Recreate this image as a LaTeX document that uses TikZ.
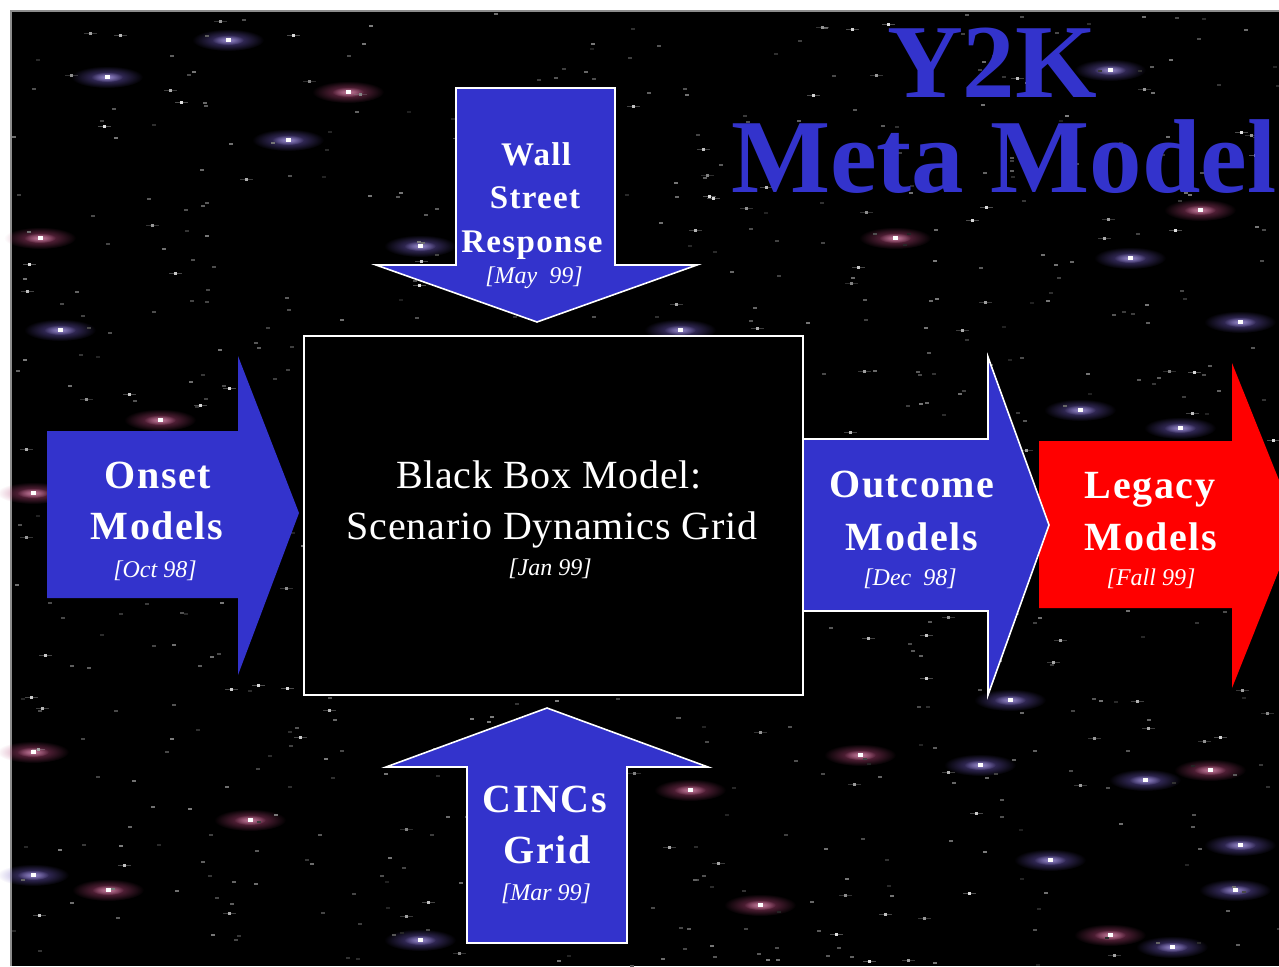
\documentclass[tikz,border=0pt]{standalone}
\usepackage{fontspec}
\setmainfont{Liberation Serif}
\newfontfamily\spacedbold[LetterSpace=4]{Liberation Serif}
\newfontfamily\spacedwide[LetterSpace=2]{Liberation Serif}
\usetikzlibrary{fadings}
\definecolor{slideblue}{RGB}{51,51,204}
\definecolor{slidered}{RGB}{255,0,0}
\definecolor{glowpurple}{RGB}{110,90,190}
\definecolor{glowpink}{RGB}{180,70,120}
\definecolor{framegray}{RGB}{140,140,140}

\tikzfading[name=softglow, inner color=transparent!0, outer color=transparent!100]

\tikzset{
  blockarrow/.style={fill=slideblue, draw=white, line width=1.6pt, line join=miter},
  plainarrow/.style={fill=slideblue, draw=none},
  redarrow/.style={fill=slidered, draw=none},
  blackbox/.style={fill=black, draw=white, line width=2pt},
  biglabel/.style={text=white, inner sep=0pt, anchor=base,
    font=\spacedbold\bfseries\fontsize{40}{40}\selectfont},
  midlabel/.style={text=white, inner sep=0pt, anchor=base,
    font=\spacedbold\bfseries\fontsize{33}{33}\selectfont},
  boxlabel/.style={text=white, inner sep=0pt, anchor=base,
    font=\spacedwide\fontsize{40}{40}\selectfont},
  datelabel/.style={text=white, inner sep=0pt, anchor=base,
    font=\itshape\fontsize{24}{24}\selectfont},
  titlelabel/.style={text=slideblue, inner sep=0pt,
    font=\bfseries\fontsize{105}{105}\selectfont},
}

\begin{document}
\begin{tikzpicture}[x=1pt, y=-1pt]
  \useasboundingbox (0,0) rectangle (1279,966);
  \clip (0,0) rectangle (1279,966);

  % page and starfield
  \fill[white] (0,0) rectangle (1279,966);
  \fill[black] (11,11) rectangle (1279,966);
  \draw[framegray, line width=1.2pt] (11,966) -- (11,11) -- (1279,11);

  % soft glowing stars
  \foreach \gx/\gy/\gc in {
      107/77/glowpurple, 348/92/glowpink, 288/140/glowpurple, 228/40/glowpurple,
      40/238/glowpink, 420/246/glowpurple, 895/238/glowpink, 1130/258/glowpurple,
      1240/322/glowpurple, 1180/428/glowpurple, 1080/410/glowpurple, 1110/70/glowpurple,
      33/493/glowpink, 33/752/glowpink, 108/890/glowpink, 33/875/glowpurple,
      1145/780/glowpurple, 1210/770/glowpink, 860/755/glowpink, 1172/947/glowpurple,
      1110/935/glowpink, 1240/845/glowpurple, 760/905/glowpink, 60/330/glowpurple,
      1010/700/glowpurple, 1235/890/glowpurple, 680/330/glowpurple, 160/420/glowpink,
      980/765/glowpurple, 250/820/glowpink, 420/940/glowpurple, 690/790/glowpink,
      1200/210/glowpink, 1050/860/glowpurple} {
    \fill[\gc, path fading=softglow, opacity=0.75] (\gx,\gy) ellipse (36 and 11);
    \fill[\gc!60!white, path fading=softglow, opacity=0.8] (\gx,\gy) ellipse (16 and 5);
    \fill[white] (\gx-2.5,\gy-2) rectangle (\gx+2.5,\gy+2);
  }

  % faint dust
  \pgfmathsetseed{7}
  \foreach \i in {1,...,650} {
    \pgfmathsetmacro\sx{12+1267*rnd}
    \pgfmathsetmacro\sy{12+954*rnd}
    \pgfmathsetmacro\sg{12+38*rnd}
    \fill[white!\sg!black] (\sx,\sy) rectangle ++(4,2);
  }
  % brighter points
  \foreach \i in {1,...,150} {
    \pgfmathsetmacro\sx{12+1267*rnd}
    \pgfmathsetmacro\sy{12+954*rnd}
    \pgfmathsetmacro\sg{50+40*rnd}
    \fill[white!\sg!black] (\sx,\sy) rectangle ++(3,3);
    \fill[white!\sg!black, opacity=0.35] (\sx-5,\sy+1) rectangle ++(13,1);
  }

  % title
  \node[titlelabel, anchor=base] (tY) at (992,97) {Y2K};
  \node[titlelabel, anchor=base west] (tMeta) at (731,192) {Meta Model};

  % arrow from the top
  \path[blockarrow] (456,88) -- (615,88) -- (615,265) -- (697,265) -- (537,322)
    -- (376,265) -- (456,265) -- cycle;
  \node[midlabel] (wsA) at (536,165) {Wall};
  \node[midlabel] (wsB) at (535,208) {Street};
  \node[midlabel] (wsC) at (532,252) {Response};
  \node[datelabel] (wsD) at (534,283) {[May\ \ 99]};

  % arrow from the left
  \path[plainarrow] (47,431) -- (238,431) -- (238,356) -- (299,513) -- (238,675)
    -- (238,598) -- (47,598) -- cycle;
  \node[biglabel] (onA) at (158,488) {Onset};
  \node[biglabel] (onB) at (157,539) {Models};
  \node[datelabel] (onC) at (155,577) {[Oct 98]};

  % arrow from below
  \path[blockarrow] (467,943) -- (467,767) -- (386,767) -- (547,708) -- (708,767)
    -- (627,767) -- (627,943) -- cycle;
  \node[biglabel] (ciA) at (545,812) {CINCs};
  \node[biglabel] (ciB) at (547,863) {Grid};
  \node[datelabel] (ciC) at (546,900) {[Mar 99]};

  % outgoing arrows
  \path[redarrow] (1039,441) -- (1232,441) -- (1232,363) -- (1297,525) -- (1232,688)
    -- (1232,608) -- (1039,608) -- cycle;
  \node[biglabel] (leA) at (1150,498) {Legacy};
  \node[biglabel] (leB) at (1151,550) {Models};
  \node[datelabel] (leC) at (1151,585) {[Fall 99]};

  \path[blockarrow] (803,439) -- (988,439) -- (988,357) -- (1049,525) -- (988,695)
    -- (988,611) -- (803,611) -- cycle;
  \node[biglabel] (ouA) at (912,497) {Outcome};
  \node[biglabel] (ouB) at (912,550) {Models};
  \node[datelabel] (ouC) at (910,585) {[Dec\ \ 98]};

  % central box
  \path[blackbox] (304,336) rectangle (803,695);
  \node[boxlabel] (bbA) at (549,488) {Black Box Model:};
  \node[boxlabel] (bbB) at (552,539) {Scenario Dynamics Grid};
  \node[datelabel] (bbC) at (550,575) {[Jan 99]};
\end{tikzpicture}
\end{document}
